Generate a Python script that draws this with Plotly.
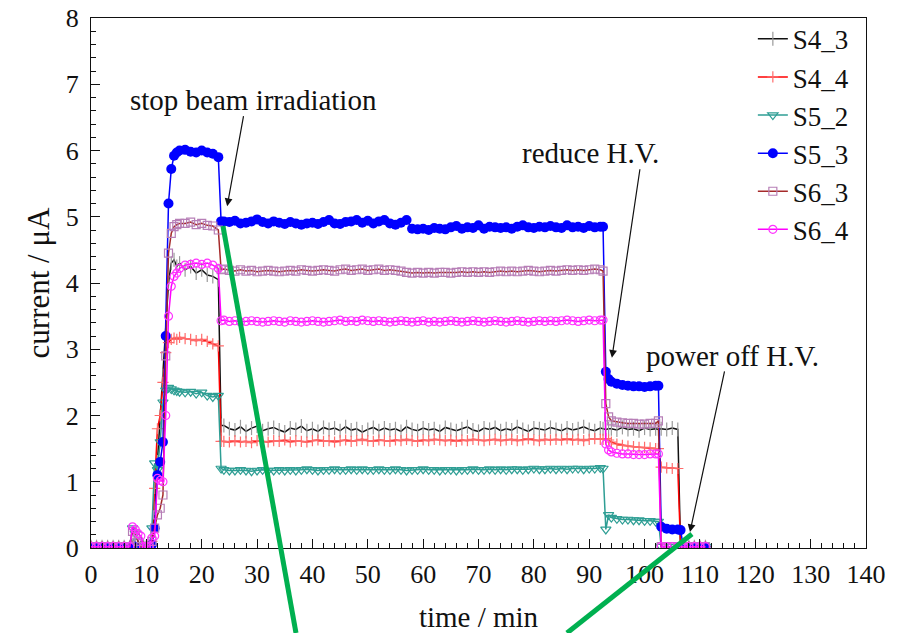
import plotly.graph_objects as go

# ---------------- data ----------------
time_min = ([0, 1, 2, 3, 4, 5, 6, 7]
            + [7.5, 8, 8.5, 9, 9.5, 10, 10.5, 11, 11.5, 12, 12.5, 13, 13.5, 14, 14.5, 15, 15.5, 16]
            + [17, 18, 19, 20, 21, 22, 23]
            + [23.5]
            + list(range(24, 93))
            + [92.5, 93, 93.5]
            + list(range(94, 103))
            + [102.5]
            + [103, 104, 105, 106, 106.5, 107, 108, 109, 110, 111])

S4_3 = ([0.02] * 8
        + [0.02, 0.02, 0.02, 0.02, 0.02, 0.02, 0.02, 0.05, 0.6, 1.3, 2.0, 2.6, 3.4, 4.0, 4.3, 4.35, 4.25, 4.3]
        + [4.2, 4.25, 4.15, 4.2, 4.12, 4.1, 4.05]
        + [1.85]
        + [1.85, 1.80, 1.78, 1.83, 1.76, 1.81, 1.84, 1.77, 1.80, 1.82,
           1.78, 1.75, 1.81, 1.79, 1.84, 1.77, 1.80, 1.76, 1.82, 1.79,
           1.81, 1.77, 1.83, 1.78, 1.80, 1.75, 1.79, 1.82, 1.77, 1.81,
           1.78, 1.80, 1.76, 1.83, 1.79, 1.77, 1.81, 1.78, 1.80, 1.76,
           1.82, 1.79, 1.77, 1.80, 1.83, 1.78, 1.76, 1.81, 1.79, 1.82,
           1.77, 1.80, 1.78, 1.83, 1.79, 1.76, 1.81, 1.80, 1.78, 1.82,
           1.79, 1.77, 1.81, 1.78, 1.80, 1.83, 1.79, 1.77, 1.81]
        + [1.80, 1.79, 1.80]
        + [1.80, 1.78, 1.82, 1.79, 1.80, 1.77, 1.81, 1.79, 1.80]
        + [1.79]
        + [1.80, 1.79, 1.81, 1.79, 0.02, 0.02, 0.02, 0.02, 0.02, 0.02])

S4_4 = ([0.02] * 8
        + [0.02, 0.02, 0.02, 0.02, 0.02, 0.02, 0.02, 0.1, 0.9, 1.8, 2.0, 2.5, 2.95, 3.1, 3.15, 3.17, 3.15, 3.18]
        + [3.16, 3.15, 3.13, 3.15, 3.12, 3.08, 3.05]
        + [1.61]
        + [1.61, 1.60, 1.62, 1.60, 1.61, 1.59, 1.62, 1.61, 1.60, 1.62,
           1.61, 1.63, 1.60, 1.62, 1.61, 1.60, 1.62, 1.63, 1.61, 1.62,
           1.60, 1.62, 1.63, 1.61, 1.62, 1.64, 1.62, 1.61, 1.63, 1.62,
           1.61, 1.63, 1.62, 1.64, 1.62, 1.61, 1.63, 1.62, 1.64, 1.63,
           1.62, 1.63, 1.61, 1.63, 1.62, 1.64, 1.63, 1.62, 1.63, 1.64,
           1.62, 1.63, 1.64, 1.62, 1.63, 1.65, 1.63, 1.62, 1.64, 1.63,
           1.64, 1.63, 1.65, 1.63, 1.64, 1.62, 1.64, 1.65, 1.64]
        + [1.64, 1.65, 1.63]
        + [1.60, 1.57, 1.55, 1.54, 1.53, 1.52, 1.52, 1.51, 1.50]
        + [1.50]
        + [1.22, 1.21, 1.20, 1.20, 0.02, 0.02, 0.02, 0.02, 0.02, 0.02])

S5_2 = ([0.02] * 8
        + [0.3, 0.22, 0.1, 0.02, 0.02, 0.02, 0.02, 0.3, 1.28, 1.18, 1.6, 2.2, 2.38, 2.42, 2.4, 2.38, 2.37, 2.36]
        + [2.35, 2.36, 2.33, 2.35, 2.30, 2.28, 2.30]
        + [1.20]
        + [1.18, 1.17, 1.17, 1.18, 1.17, 1.16, 1.17, 1.18, 1.17, 1.17,
           1.18, 1.17, 1.18, 1.17, 1.18, 1.19, 1.18, 1.17, 1.18, 1.18,
           1.19, 1.18, 1.18, 1.19, 1.18, 1.19, 1.18, 1.18, 1.19, 1.18,
           1.18, 1.19, 1.18, 1.17, 1.18, 1.18, 1.19, 1.18, 1.18, 1.17,
           1.18, 1.18, 1.17, 1.18, 1.18, 1.19, 1.18, 1.18, 1.19, 1.18,
           1.19, 1.18, 1.19, 1.19, 1.18, 1.19, 1.20, 1.19, 1.19, 1.20,
           1.19, 1.20, 1.19, 1.20, 1.20, 1.19, 1.20, 1.20, 1.21]
        + [1.20, 0.28, 0.50]
        + [0.46, 0.44, 0.43, 0.43, 0.42, 0.42, 0.41, 0.41, 0.40]
        + [0.40]
        + [0.02] * 10)

S5_3 = ([0.02] * 8
        + [0.02, 0.02, 0.02, 0.02, 0.02, 0.02, 0.02, 0.05, 0.3, 1.1, 1.3, 1.6, 3.2, 5.2, 5.72, 5.92, 5.97, 6.0]
        + [6.01, 5.98, 5.97, 6.00, 5.97, 5.95, 5.90]
        + [4.93]
        + [4.93, 4.92, 4.94, 4.90, 4.91, 4.93, 4.96, 4.92, 4.90, 4.93,
           4.91, 4.89, 4.92, 4.90, 4.88, 4.90, 4.91, 4.89, 4.92, 4.95,
           4.90, 4.89, 4.92, 4.93, 4.95, 4.91, 4.94, 4.90, 4.93, 4.95,
           4.90, 4.88, 4.91, 4.95, 4.82, 4.81, 4.82, 4.80, 4.83, 4.82,
           4.81, 4.84, 4.86, 4.82, 4.84, 4.83, 4.87, 4.82, 4.85, 4.84,
           4.83, 4.84, 4.82, 4.85, 4.87, 4.84, 4.83, 4.85, 4.84, 4.86,
           4.84, 4.83, 4.87, 4.84, 4.85, 4.83, 4.86, 4.84, 4.85]
        + [4.85, 2.66, 2.55]
        + [2.51, 2.48, 2.46, 2.45, 2.44, 2.44, 2.43, 2.44, 2.45]
        + [2.45]
        + [0.32, 0.29, 0.28, 0.28, 0.27, 0.02, 0.02, 0.02, 0.02, 0.02])

S6_3 = ([0.02] * 8
        + [0.25, 0.2, 0.1, 0.02, 0.02, 0.02, 0.02, 0.1, 0.3, 0.5, 0.6, 0.8, 2.9, 4.45, 4.75, 4.85, 4.88, 4.9]
        + [4.90, 4.92, 4.88, 4.90, 4.87, 4.86, 4.80]
        + [4.20]
        + [4.21, 4.19, 4.18, 4.20, 4.18, 4.19, 4.17, 4.18, 4.19, 4.18,
           4.17, 4.18, 4.19, 4.18, 4.20, 4.19, 4.18, 4.19, 4.20, 4.19,
           4.18, 4.20, 4.21, 4.19, 4.20, 4.21, 4.19, 4.20, 4.21, 4.19,
           4.20, 4.19, 4.18, 4.16, 4.15, 4.16, 4.15, 4.16, 4.15, 4.16,
           4.16, 4.15, 4.16, 4.17, 4.16, 4.17, 4.16, 4.17, 4.16, 4.17,
           4.18, 4.17, 4.18, 4.17, 4.18, 4.19, 4.18, 4.17, 4.18, 4.19,
           4.18, 4.19, 4.20, 4.19, 4.20, 4.19, 4.20, 4.21, 4.20]
        + [4.18, 2.18, 1.98]
        + [1.92, 1.90, 1.89, 1.88, 1.88, 1.87, 1.87, 1.88, 1.88]
        + [1.92]
        + [0.02] * 10)

S6_4 = ([0.02] * 8
        + [0.32, 0.28, 0.22, 0.18, 0.02, 0.02, 0.02, 0.15, 0.18, 1.05, 1.02, 1.0, 2.0, 3.5, 3.95, 4.1, 4.15, 4.22]
        + [4.27, 4.28, 4.30, 4.28, 4.30, 4.27, 4.22]
        + [3.43]
        + [3.44, 3.42, 3.43, 3.41, 3.42, 3.43, 3.42, 3.41, 3.42, 3.43,
           3.42, 3.41, 3.43, 3.42, 3.41, 3.42, 3.43, 3.42, 3.41, 3.42,
           3.43, 3.44, 3.42, 3.43, 3.42, 3.44, 3.43, 3.42, 3.43, 3.42,
           3.41, 3.42, 3.43, 3.42, 3.41, 3.42, 3.43, 3.41, 3.42, 3.41,
           3.42, 3.43, 3.42, 3.41, 3.42, 3.43, 3.42, 3.41, 3.42, 3.43,
           3.42, 3.41, 3.42, 3.43, 3.42, 3.41, 3.42, 3.43, 3.42, 3.43,
           3.42, 3.43, 3.44, 3.43, 3.42, 3.43, 3.44, 3.43, 3.44]
        + [3.44, 1.57, 1.48]
        + [1.45, 1.43, 1.42, 1.42, 1.41, 1.41, 1.41, 1.42, 1.42]
        + [1.42]
        + [0.02] * 10)

series_names = ["S4_3", "S4_4", "S5_2", "S5_3", "S6_3", "S6_4"]
series_values = [S4_3, S4_4, S5_2, S5_3, S6_3, S6_4]

x_ticks = list(range(0, 141, 10))
y_ticks = list(range(0, 9, 1))

# annotations: (text, time, current) text centres
notes = [("stop beam irradiation", 29.4, 6.76),
         ("reduce H.V.", 90.3, 5.96),
         ("power off H.V.", 115.8, 2.90)]
# arrows: (tail_t, tail_v, head_t, head_v)
arrows = [(27.6, 6.54, 24.6, 5.16),
          (99.2, 5.74, 94.1, 2.87),
          (114.5, 2.69, 108.2, 0.24)]
# green overlay strokes in data units (extend beyond the axes)
green_strokes = [(23.84, 4.86, 37.03, -1.283),
                 (108.56, 0.211, 85.98, -1.283)]

# ---------------- styles ----------------
styles = {
    "S4_3": dict(line="#111111", mcolor="#9a9a9a", symbol="line-ns-open", size=10, mlw=1.2),
    "S4_4": dict(line="#ff0000", mcolor="#ff6b6b", symbol="cross-thin-open", size=8, mlw=1.2),
    "S5_2": dict(line="#2e9e94", mcolor="#2e9e94", symbol="triangle-down-open", size=9, mlw=1.2),
    "S5_3": dict(line="#0000ff", mcolor="#0000ff", symbol="circle", size=10, mlw=0),
    "S6_3": dict(line="#a52a2a", mcolor="#b77fb7", symbol="square-open", size=8, mlw=1.2),
    "S6_4": dict(line="#ff00ff", mcolor="#ff33ff", symbol="circle-open", size=8, mlw=1.2),
}

FONT = "Liberation Serif"
X0, X1, Y0, Y1 = 0, 140, 0, 8

fig = go.Figure()
for name, vals in zip(series_names, series_values):
    st = styles[name]
    fig.add_trace(go.Scatter(
        x=time_min, y=vals, name=name, mode="lines+markers",
        line=dict(color=st["line"], width=1.5),
        marker=dict(symbol=st["symbol"], size=st["size"], color=st["mcolor"],
                    line=dict(width=st["mlw"], color=st["mcolor"])),
    ))

annotations = []
for text, t, v in notes:
    annotations.append(dict(x=t, y=v, xref="x", yref="y", text=text, showarrow=False,
                            font=dict(family=FONT, size=29, color="#111111")))
for tt, tv, ht, hv in arrows:
    annotations.append(dict(x=ht, y=hv, ax=tt, ay=tv, xref="x", yref="y", axref="x", ayref="y",
                            text="", showarrow=True, arrowhead=2, arrowsize=1.3, arrowwidth=1.2,
                            arrowcolor="#111111", font=dict(size=1)))

def to_paper(t, v):
    return (t - X0) / (X1 - X0), (v - Y0) / (Y1 - Y0)

shapes = []
for t0, v0, t1, v1 in green_strokes:
    px0, py0 = to_paper(t0, v0)
    px1, py1 = to_paper(t1, v1)
    shapes.append(dict(type="line", xref="paper", yref="paper", x0=px0, y0=py0, x1=px1, y1=py1,
                       line=dict(color="#00b050", width=5), layer="above"))

axis_common = dict(
    showline=True, mirror=True, linecolor="#111111", linewidth=1.3,
    ticks="inside", ticklen=9, tickwidth=1.3, tickcolor="#111111",
    showgrid=False, zeroline=False, automargin=False,
    tickfont=dict(family=FONT, size=26, color="#111111"),
)

fig.update_layout(
    width=904, height=633,
    margin=dict(l=91, r=38, t=18, b=85),
    paper_bgcolor="white", plot_bgcolor="white",
    font=dict(family=FONT, color="#111111"),
    hovermode=False,
    xaxis=dict(range=[X0, X1], tickvals=x_ticks, ticklabelstandoff=3,
               minor=dict(dtick=2, ticks="inside", ticklen=5, tickwidth=1, tickcolor="#111111"),
               title=dict(text="time / min", font=dict(family=FONT, size=29), standoff=18),
               **axis_common),
    yaxis=dict(range=[Y0, Y1], tickvals=y_ticks, ticklabelstandoff=6,
               minor=dict(dtick=0.2, ticks="inside", ticklen=5, tickwidth=1, tickcolor="#111111"),
               title=dict(text="current / μA", font=dict(family=FONT, size=31), standoff=6),
               **axis_common),
    legend=dict(x=0.854, y=1.006, xanchor="left", yanchor="top",
                bgcolor="rgba(0,0,0,0)", borderwidth=0,
                font=dict(family=FONT, size=27, color="#111111")),
    annotations=annotations,
    shapes=shapes,
)

# remove the browser's default 8px page margin so the figure fills the window exactly
fig.write_html("out.html", config={"displayModeBar": False},
               post_script="document.body.style.margin='0px';")
